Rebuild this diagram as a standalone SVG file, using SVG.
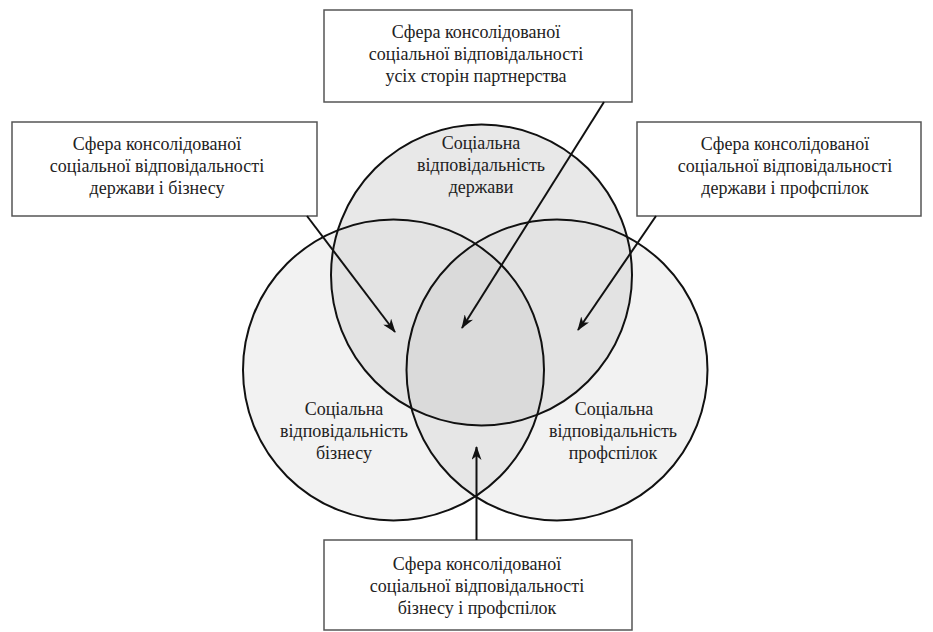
<svg xmlns="http://www.w3.org/2000/svg" width="933" height="632" viewBox="0 0 933 632">
<style>
text{font-family:"Liberation Serif","DejaVu Serif",serif;font-size:18px;fill:#222;text-anchor:middle}
.box{fill:#fff;stroke:#555;stroke-width:1.5}
.ring{fill:none;stroke:#111;stroke-width:2}
.con{stroke:#111;stroke-width:2;fill:none;marker-end:url(#ah)}
</style>
<defs>
<marker id="ah" viewBox="0 0 14 10" refX="13" refY="5" markerWidth="14" markerHeight="10" markerUnits="userSpaceOnUse" orient="auto">
<path d="M0,0 L14,5 L0,10 L4,5 z" fill="#111"/>
</marker>
<circle id="cT" cx="481.5" cy="275" r="150.5"/>
<circle id="cL" cx="393.5" cy="370" r="150.5"/>
<circle id="cR" cx="557" cy="370" r="150.5"/>
<clipPath id="kL"><use href="#cL"/></clipPath>
<clipPath id="kR"><use href="#cR"/></clipPath>
<clipPath id="kT"><use href="#cT"/></clipPath>
</defs>

<g id="fills">
<use href="#cL" fill="#f2f2f2"/>
<use href="#cR" fill="#f2f2f2"/>
<use href="#cT" fill="#e8e8e8"/>
<use href="#cR" fill="#e6e6e6" clip-path="url(#kL)"/>
<use href="#cT" fill="#e3e3e3" clip-path="url(#kL)"/>
<use href="#cT" fill="#e3e3e3" clip-path="url(#kR)"/>
<g clip-path="url(#kR)"><use href="#cT" fill="#dadada" clip-path="url(#kL)"/></g>
</g>

<g id="circle-state">
<use href="#cT" class="ring"/>
<text x="481" y="149">Соціальна</text>
<text x="481" y="171">відповідальність</text>
<text x="481" y="193">держави</text>
</g>
<g id="circle-business">
<use href="#cL" class="ring"/>
<text x="344" y="415">Соціальна</text>
<text x="344" y="437">відповідальність</text>
<text x="344" y="459">бізнесу</text>
</g>
<g id="circle-unions">
<use href="#cR" class="ring"/>
<text x="614" y="415">Соціальна</text>
<text x="613" y="437">відповідальність</text>
<text x="613" y="459">профспілок</text>
</g>

<g id="box-all">
<rect class="box" x="324" y="10" width="308" height="92"/>
<text x="476" y="38">Сфера консолідованої</text>
<text x="476" y="60">соціальної відповідальності</text>
<text x="476" y="82">усіх сторін партнерства</text>
</g>
<g id="box-state-business">
<rect class="box" x="12" y="122" width="305" height="94"/>
<text x="157" y="150">Сфера консолідованої</text>
<text x="157" y="172">соціальної відповідальності</text>
<text x="157" y="194">держави і бізнесу</text>
</g>
<g id="box-state-unions">
<rect class="box" x="637" y="122" width="284" height="94"/>
<text x="785" y="150">Сфера консолідованої</text>
<text x="785" y="172">соціальної відповідальності</text>
<text x="785" y="194">держави і профспілок</text>
</g>
<g id="box-business-unions">
<rect class="box" x="324" y="540" width="308" height="90"/>
<text x="477" y="570">Сфера консолідованої</text>
<text x="477" y="592">соціальної відповідальності</text>
<text x="477" y="614">бізнесу і профспілок</text>
</g>

<g id="connectors">
<line class="con" x1="604" y1="102" x2="462" y2="328"/>
<line class="con" x1="307" y1="216" x2="395" y2="332"/>
<line class="con" x1="656" y1="216" x2="578" y2="330"/>
<line class="con" x1="476.5" y1="540" x2="476.5" y2="447"/>
</g>
</svg>
